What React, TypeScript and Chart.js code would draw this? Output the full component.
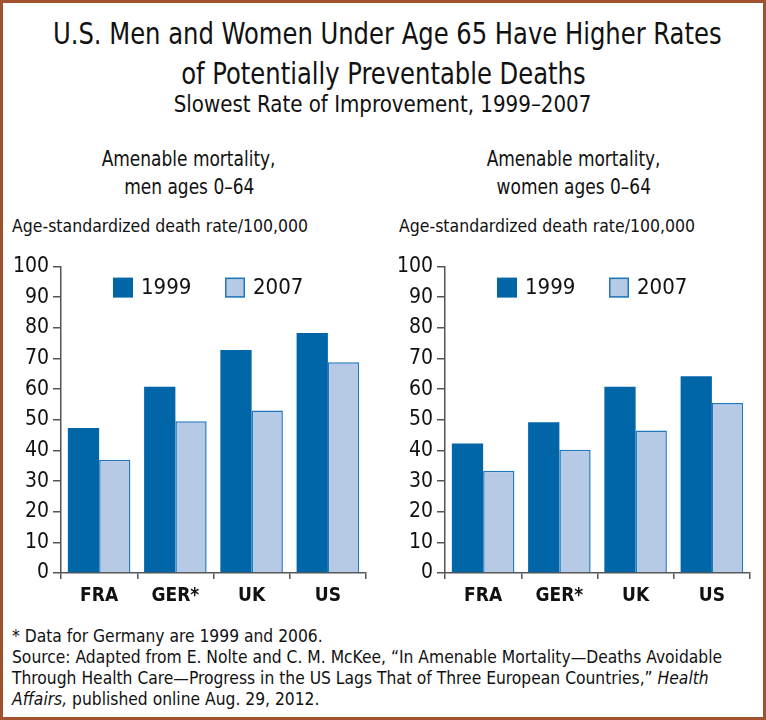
import React, { useEffect, useRef } from "react";
import { Chart, registerables } from "chart.js";

Chart.register(...registerables);

const categories = ["FRA", "GER*", "UK", "US"];
const seriesNames = ["1999", "2007"];
const menValues1999 = [47.3, 60.8, 72.8, 78.3];
const menValues2007 = [37, 49.5, 53, 68.8];
const womenValues1999 = [42.3, 49.2, 60.8, 64.2];
const womenValues2007 = [33.4, 40.2, 46.5, 55.5];
const yTicks = [0, 10, 20, 30, 40, 50, 60, 70, 80, 90, 100];

const FONT = "'DejaVu Sans Condensed', 'DejaVu Sans', sans-serif";
const DARK = "#0066a8";
const LIGHT = "#b7cae5";
const LIGHT_BORDER = "#2277bb";
const AXIS = "#555555";

const inAreaLegend = {
  id: "inAreaLegend",
  afterDraw(chart: any) {
    const { ctx, chartArea } = chart;
    ctx.save();
    ctx.font = `22px ${FONT}`;
    ctx.textBaseline = "middle";
    ctx.textAlign = "left";
    chart.data.datasets.forEach((ds: any, i: number) => {
      const x = chartArea.left + 52 + i * 112;
      const y = chartArea.top + 11;
      ctx.fillStyle = ds.backgroundColor;
      ctx.fillRect(x, y, 20, 20);
      if (ds.borderWidth) {
        ctx.strokeStyle = ds.borderColor;
        ctx.lineWidth = 1.5;
        ctx.strokeRect(x + 0.75, y + 0.75, 18.5, 18.5);
      }
      ctx.fillStyle = "#111";
      ctx.fillText(ds.label, x + 28, y + 11);
    });
    ctx.restore();
  },
};

function BarPanel({ v1, v2 }: { v1: number[]; v2: number[] }) {
  const ref = useRef<HTMLCanvasElement | null>(null);
  useEffect(() => {
    if (!ref.current) return;
    const chart = new Chart(ref.current, {
      type: "bar",
      data: {
        labels: categories,
        datasets: [
          {
            label: seriesNames[0],
            data: v1,
            backgroundColor: DARK,
            borderColor: DARK,
            borderWidth: 0,
            categoryPercentage: 0.82,
            barPercentage: 1.0,
          },
          {
            label: seriesNames[1],
            data: v2,
            backgroundColor: LIGHT,
            borderColor: LIGHT_BORDER,
            borderWidth: 1.5,
            categoryPercentage: 0.82,
            barPercentage: 1.0,
          },
        ],
      },
      plugins: [inAreaLegend],
      options: {
        animation: false,
        responsive: false,
        maintainAspectRatio: false,
        layout: { padding: { top: 12, right: 10, left: 0, bottom: 0 } },
        plugins: {
          tooltip: { enabled: false },
          legend: { display: false },
        },
        scales: {
          x: {
            grid: {
              display: true,
              drawOnChartArea: false,
              drawTicks: true,
              tickLength: 6,
              color: AXIS,
              lineWidth: 1.5,
              offset: true,
            },
            border: { display: true, color: AXIS, width: 1.5 },
            ticks: {
              color: "#111",
              font: { family: FONT, size: 19, weight: "bold" },
              padding: 6,
            },
            afterFit: (s: any) => {
              s.height = 37;
            },
          },
          y: {
            min: 0,
            max: 100,
            afterBuildTicks: (s: any) => {
              s.ticks = yTicks.map((v) => ({ value: v }));
            },
            grid: {
              display: true,
              drawOnChartArea: false,
              drawTicks: true,
              tickLength: 8,
              color: AXIS,
              lineWidth: 1.5,
            },
            border: { display: true, color: AXIS, width: 1.5 },
            ticks: {
              color: "#111",
              font: { family: FONT, size: 21 },
              padding: 4,
            },
            afterFit: (s: any) => {
              s.width = 57;
            },
          },
        },
      },
    });
    return () => chart.destroy();
  }, [v1, v2]);
  return <canvas ref={ref} width={372} height={360} style={{ width: 372, height: 360, display: "block" }} />;
}

export default function App() {
  const abs = (o: React.CSSProperties): React.CSSProperties => ({ position: "absolute", ...o });
  const squeeze = (scale: number): React.CSSProperties => ({
    display: "inline-block",
    whiteSpace: "nowrap",
    transform: `scaleX(${scale})`,
    transformOrigin: "center",
  });
  return (
    <div
      style={{
        position: "fixed",
        left: 0,
        top: 0,
        width: 766,
        height: 720,
        boxSizing: "border-box",
        border: "3px solid #a0522d",
        background: "#fff",
        fontFamily: FONT,
        color: "#111",
        overflow: "hidden",
      }}
    >
      <div style={abs({ left: 0, right: 0, top: 10, textAlign: "center", fontSize: 31, lineHeight: "40px" })}>
        <span style={squeeze(0.87)}>U.S. Men and Women Under Age 65 Have Higher Rates</span>
        <br />
        <span style={squeeze(0.87)}>of Potentially Preventable Deaths</span>
      </div>
      <div style={abs({ left: 0, right: 0, top: 88, textAlign: "center", fontSize: 23, lineHeight: "26px" })}>
        <span style={squeeze(0.96)}>Slowest Rate of Improvement, 1999–2007</span>
      </div>
      <div style={abs({ left: 0, width: 372, top: 142, textAlign: "center", fontSize: 21, lineHeight: "28px" })}>
        <span style={squeeze(0.9)}>Amenable mortality,</span>
        <br />
        <span style={squeeze(0.9)}>men ages 0–64</span>
      </div>
      <div style={abs({ left: 385, width: 372, top: 142, textAlign: "center", fontSize: 21, lineHeight: "28px" })}>
        <span style={squeeze(0.9)}>Amenable mortality,</span>
        <br />
        <span style={squeeze(0.9)}>women ages 0–64</span>
      </div>
      <div style={abs({ left: 9, top: 212, fontSize: 17.5, lineHeight: "22px", whiteSpace: "nowrap" })}>
        Age-standardized death rate/100,000
      </div>
      <div style={abs({ left: 396, top: 212, fontSize: 17.5, lineHeight: "22px", whiteSpace: "nowrap" })}>
        Age-standardized death rate/100,000
      </div>
      <div style={abs({ left: 1, top: 247 })}>
        <BarPanel v1={menValues1999} v2={menValues2007} />
      </div>
      <div style={abs({ left: 385, top: 247 })}>
        <BarPanel v1={womenValues1999} v2={womenValues2007} />
      </div>
      <div style={abs({ left: 9, top: 623, fontSize: 17.3, lineHeight: "21px", whiteSpace: "nowrap" })}>
        * Data for Germany are 1999 and 2006.
        <br />
        Source: Adapted from E. Nolte and C. M. McKee, “In Amenable Mortality—Deaths Avoidable
        <br />
        Through Health Care—Progress in the US Lags That of Three European Countries,” <i>Health</i>
        <br />
        <i>Affairs,</i> published online Aug. 29, 2012.
      </div>
    </div>
  );
}
